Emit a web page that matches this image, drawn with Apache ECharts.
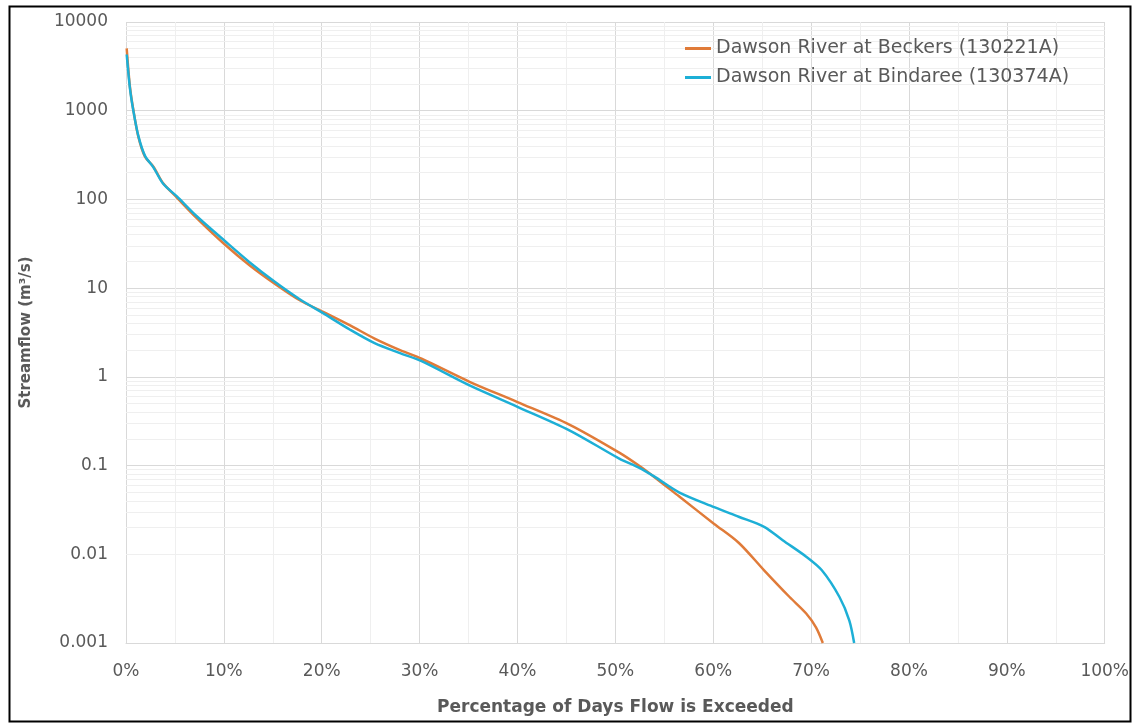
<!DOCTYPE html>
<html>
<head>
<meta charset="utf-8">
<script src="https://cdn.jsdelivr.net/npm/echarts@6/dist/echarts.min.js"></script>
<style>html,body{margin:0;padding:0;background:#fff;}#c{width:1132px;height:723px;}</style>
</head>
<body>
<div id="c"></div>
<script>
// Percent of days exceeded (x) and streamflow m3/s (y)
var beckersX = [0.07, 0.4, 0.75, 1.26, 1.94, 2.8, 3.8, 5.2, 7.2, 10.1, 12.65, 15.2, 17.75, 20.3, 22.9, 25.4, 28, 30.2, 35.1, 40, 45.3, 50.4, 52.4, 54, 56.5, 60.1, 62.6, 65.2, 67.8, 69.5, 70.5, 71.2];
var beckersY = [5050, 1870, 1020, 510, 303, 234, 152, 105, 62, 31, 18, 11.2, 7.3, 5.3, 3.8, 2.7, 2.0, 1.6, 0.88, 0.52, 0.29, 0.14, 0.1, 0.074, 0.045, 0.022, 0.0135, 0.0066, 0.0033, 0.00215, 0.0015, 0.001];
var bindareeX = [0.07, 0.4, 0.75, 1.26, 1.94, 2.8, 3.8, 5.2, 7.2, 10.1, 12.65, 15.2, 17.75, 20.3, 22.9, 25.4, 28, 30.2, 35.1, 40, 45.3, 50.4, 52.4, 54, 56.5, 60.1, 62.6, 65.2, 67.1, 69.5, 71.1, 72.9, 73.9, 74.4];
var bindareeY = [4300, 1800, 1000, 520, 310, 230, 150, 108, 65, 34, 19.5, 11.8, 7.5, 5.1, 3.4, 2.4, 1.85, 1.5, 0.8, 0.46, 0.25, 0.12, 0.095, 0.075, 0.05, 0.034, 0.0265, 0.0204, 0.0144, 0.0094, 0.0066, 0.0033, 0.0018, 0.001];
var seriesNames = ['Dawson River at Beckers (130221A)', 'Dawson River at Bindaree (130374A)'];
var yTickLabels = ['0.001', '0.01', '0.1', '1', '10', '100', '1000', '10000'];
var xTickLabels = ['0%', '10%', '20%', '30%', '40%', '50%', '60%', '70%', '80%', '90%', '100%'];

function zip(xs, ys) { return xs.map(function (x, i) { return [x, ys[i]]; }); }

// Excel-style log minor gridlines (2..9 within each decade)
var minorLines = [];
for (var e = -3; e < 4; e++) {
  for (var m = 2; m <= 9; m++) {
    minorLines.push({ yAxis: parseFloat((m * Math.pow(10, e)).toPrecision(3)) });
  }
}

var FONT = 'DejaVu Sans';
var chart = echarts.init(document.getElementById('c'), null, { renderer: 'canvas' });
chart.setOption({
  backgroundColor: '#fff',
  animation: false,
  textStyle: { fontFamily: FONT },
  graphic: [{
    type: 'rect', left: 7, top: 4, shape: { width: 1121, height: 715 },
    style: { fill: 'none', stroke: '#000', lineWidth: 2 }, z: 100, silent: true
  }],
  grid: { left: 126, right: 26, top: 22, bottom: 80 },
  legend: {
    data: seriesNames,
    orient: 'vertical',
    left: 680, top: 34, z: 10,
    itemWidth: 26, itemHeight: 3, itemGap: 10,
    icon: 'rect',
    textStyle: { color: '#595959', fontSize: 19, fontFamily: FONT }
  },
  xAxis: {
    type: 'value', min: 0, max: 100, interval: 10,
    name: 'Percentage of Days Flow is Exceeded',
    nameLocation: 'middle', nameGap: 56,
    nameTextStyle: { color: '#595959', fontSize: 17, fontWeight: 'bold', fontFamily: FONT },
    axisLine: { show: true, lineStyle: { color: '#d9d9d9' } },
    axisTick: { show: false },
    axisLabel: {
      color: '#595959', fontSize: 17, margin: 20, fontFamily: FONT,
      formatter: function (v) { return xTickLabels[Math.round(v / 10)]; }
    },
    splitLine: { show: true, lineStyle: { color: '#d9d9d9' } },
    minorTick: { show: false, splitNumber: 2 },
    minorSplitLine: { show: true, lineStyle: { color: '#efefef' } }
  },
  yAxis: {
    type: 'log', logBase: 10, min: 0.001, max: 10000,
    name: 'Streamflow (m³/s)',
    nameLocation: 'middle', nameGap: 92,
    nameTextStyle: { color: '#595959', fontSize: 15, fontWeight: 'bold', fontFamily: FONT },
    axisLine: { show: false },
    axisTick: { show: false },
    axisLabel: {
      color: '#595959', fontSize: 17, margin: 18, fontFamily: FONT,
      formatter: function (v) { return yTickLabels[Math.round(Math.log10(v)) + 3]; }
    },
    splitLine: { show: true, lineStyle: { color: '#d9d9d9' } }
  },
  series: [
    {
      name: 'minor', type: 'line', data: [[0, 1]], showSymbol: false, symbol: 'none',
      lineStyle: { opacity: 0 }, silent: true, z: 1,
      markLine: {
        z: 1, silent: true, symbol: ['none', 'none'], label: { show: false },
        lineStyle: { color: '#efefef', type: 'solid', width: 1 },
        emphasis: { disabled: true },
        data: minorLines
      }
    },
    {
      name: seriesNames[0], type: 'line', data: zip(beckersX, beckersY),
      showSymbol: false, symbol: 'none', smooth: 0.3, z: 3,
      color: '#E07B39', lineStyle: { color: '#E07B39', width: 2.5 }
    },
    {
      name: seriesNames[1], type: 'line', data: zip(bindareeX, bindareeY),
      showSymbol: false, symbol: 'none', smooth: 0.3, z: 4,
      color: '#1DAFD6', lineStyle: { color: '#1DAFD6', width: 2.5 }
    }
  ]
});
</script>
</body>
</html>
